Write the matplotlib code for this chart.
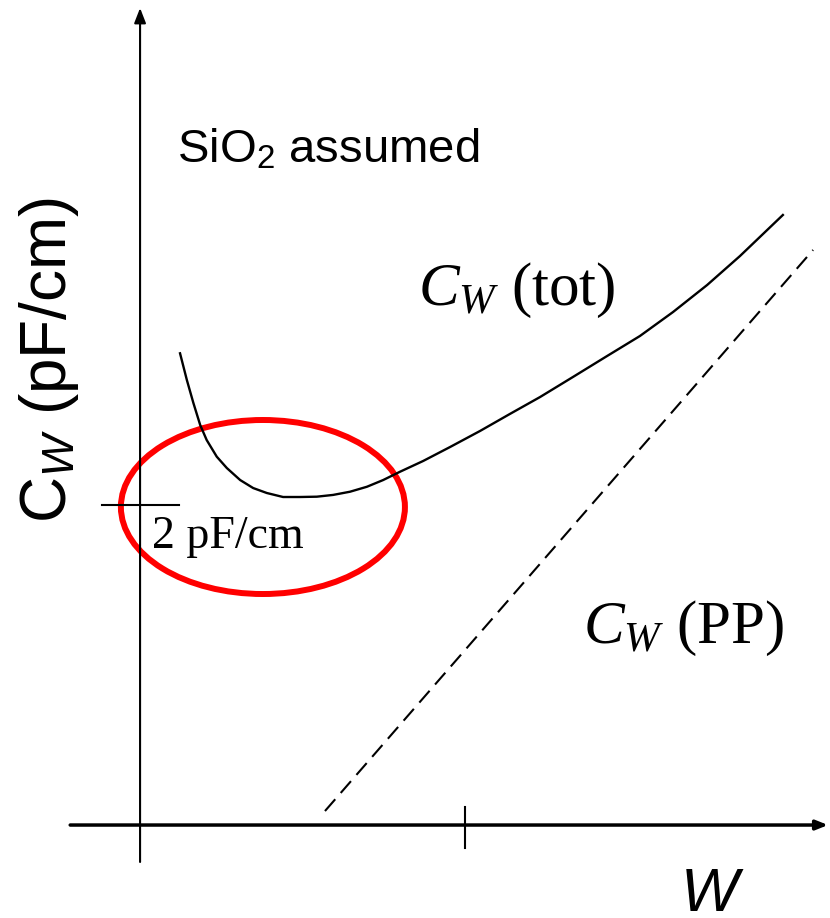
import matplotlib
matplotlib.use("Agg")
import matplotlib.pyplot as plt
from matplotlib.patches import Ellipse

# Schematic: wire capacitance vs. wire width W (arbitrary units, tick at W=1)
plt.rcParams['mathtext.fontset'] = 'custom'
plt.rcParams['mathtext.rm'] = 'Liberation Serif'
plt.rcParams['mathtext.it'] = 'Liberation Serif:italic'
plt.rcParams['mathtext.sf'] = 'Liberation Sans:italic'

# total capacitance C_W(tot)
w_tot = [0.123, 0.144, 0.164, 0.185, 0.205, 0.236, 0.267, 0.308, 0.348, 0.390,
         0.440, 0.492, 0.544, 0.594, 0.646, 0.698, 0.748, 0.800, 0.871, 0.954,
         1.046, 1.138, 1.231, 1.332, 1.437, 1.538, 1.640, 1.745, 1.846, 1.978]
c_tot = [2.948, 2.781, 2.638, 2.500, 2.406, 2.302, 2.231, 2.156, 2.106, 2.075,
         2.050, 2.050, 2.052, 2.063, 2.083, 2.114, 2.156, 2.208, 2.275, 2.3625,
         2.4625, 2.569, 2.675, 2.800, 2.931, 3.056, 3.206, 3.375, 3.556, 3.8125]

# parallel plate part C_W(PP) (straight line)
w_pp = [0.569, 2.071]
c_pp = [0.0875, 3.594]

w_tick = 1.0
c_tick = 2.0   # pF/cm

fig = plt.figure(figsize=(8.3, 9.18), dpi=100)
ax = fig.add_axes([0, 0, 1, 1])
ax.set_xlim(-0.431, 2.123)
ax.set_ylim(-0.581, 5.156)
ax.axis('off')

# axes with arrows
ax.annotate('', xy=(0, 5.106), xytext=(0, -0.231), annotation_clip=False,
            arrowprops=dict(arrowstyle='-|>,head_length=0.9,head_width=0.35',
                            lw=1.5, color='black', shrinkA=0, shrinkB=0))
ax.annotate('', xy=(2.117, 0), xytext=(-0.215, 0), annotation_clip=False,
            arrowprops=dict(arrowstyle='-|>,head_length=0.7,head_width=0.28',
                            lw=2.5, color='black', shrinkA=0, shrinkB=0))

# ticks
ax.plot([w_tick, w_tick], [0.1125, -0.144], color='black', lw=1.5)
ax.plot([-0.117, 0.12], [c_tick, c_tick], color='black', lw=1.5)

ax.plot(w_tot, c_tot, color='black', lw=1.7, solid_joinstyle='round')
ax.plot(w_pp, c_pp, color='black', lw=1.5, dashes=(7.5, 4))

ax.add_patch(Ellipse((0.378, 1.9875), 0.874, 1.0875, fill=False,
                     edgecolor='#ff0000', lw=4.3))

ax.text(0.114, 4.1375, r'SiO$_\mathregular{2}$ assumed', fontsize=34,
        family='Liberation Sans', va='baseline')
ax.text(0.855, 3.25, r'$C_W$ (tot)', fontsize=44,
        family='Liberation Serif', va='baseline')
ax.text(1.363, 1.1375, r'$C_W$ (PP)', fontsize=44,
        family='Liberation Serif', va='baseline')
ax.text(0.037, 1.731, '2 pF/cm', fontsize=33,
        family='Liberation Serif', va='baseline')
ax.text(1.665, -0.54, 'W', fontsize=44, family='Liberation Sans',
        style='italic', va='baseline')
ax.text(-0.28, 2.906, r'C$_\mathsf{W}$ (pF/cm)', fontsize=46,
        family='Liberation Sans', rotation=90, ha='center', va='center')

fig.savefig('out.png', dpi=100)
